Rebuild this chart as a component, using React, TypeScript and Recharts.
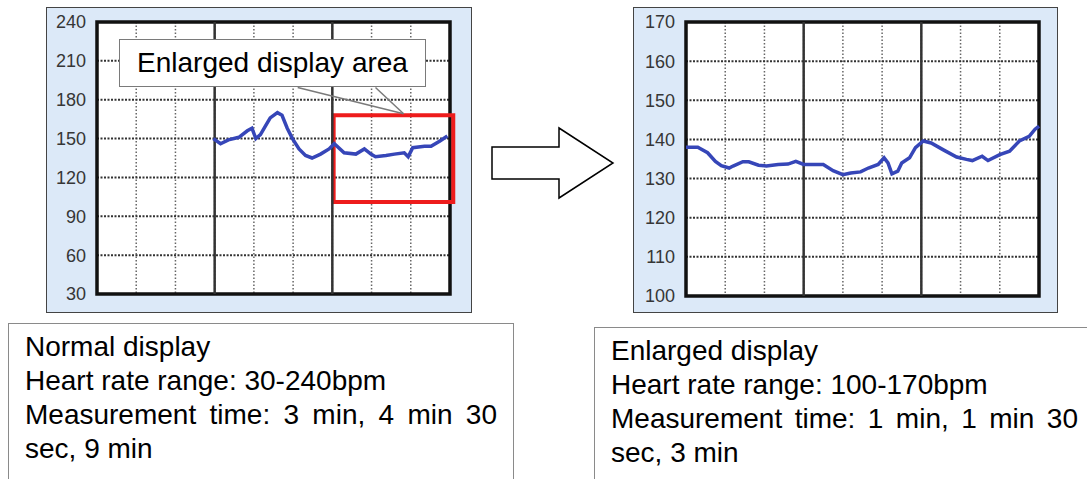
import React from "react"
import { LineChart, Line, XAxis, YAxis, CartesianGrid, ReferenceLine, ReferenceArea } from "recharts"

// normal display: seconds since start, bpm
const normalTime = [178, 189, 201, 217, 230, 237, 243, 250, 258, 265, 276, 283, 291, 299, 309, 319, 329, 342, 355, 363, 378, 396, 409, 419, 426, 442, 455, 470, 476, 483, 501, 511, 524, 536]
const normalBpm = [150, 146, 149, 151, 156, 158, 150, 153, 160, 166, 170, 168, 158, 150, 142, 137, 135, 138, 142, 146, 139, 138, 142, 138, 136, 137, 138, 139, 136, 143, 144, 144, 148, 152]
const normalXTicks = [0, 60, 120, 180, 240, 300, 360, 420, 480, 540]
const normalYTicks = [30, 60, 90, 120, 150, 180, 210, 240]
const normalMajor = [180, 360]

// enlarged display
const enlargedTime = [0, 6, 11, 15, 18, 22, 24, 29, 32, 37, 41, 47, 52, 56, 60, 65, 70, 75, 80, 84, 89, 93, 98, 101, 103, 105, 108, 110, 114, 117, 121, 125, 131, 138, 143, 146, 151, 154, 160, 165, 170, 175, 178, 180]
const enlargedBpm = [138, 138, 136.6, 134.4, 133.3, 132.7, 133.2, 134.3, 134.3, 133.4, 133.2, 133.6, 133.7, 134.4, 133.6, 133.6, 133.6, 132, 131, 131.4, 131.7, 132.7, 133.6, 135.3, 134, 131.2, 131.9, 134, 135.3, 137.9, 139.6, 139.1, 137.4, 135.5, 134.9, 134.6, 135.7, 134.6, 136.1, 137, 139.6, 140.8, 142.6, 143.4]
const enlargedXTicks = [0, 20, 40, 60, 80, 100, 120, 140, 160, 180]
const enlargedYTicks = [100, 110, 120, 130, 140, 150, 160, 170]
const enlargedMajor = [60, 120]

const normalText = ["Normal display", "Heart rate range: 30-240bpm", "Measurement time: 3 min, 4 min 30 sec, 9 min"]
const enlargedText = ["Enlarged display", "Heart rate range: 100-170bpm", "Measurement time: 1 min, 1 min 30 sec, 3 min"]

const font = "'Liberation Sans', Arial, sans-serif"
const lineColor = "#3646b8"

type PanelProps = {
  left: number
  top: number
  width: number
  height: number
  margin: { top: number; right: number; bottom: number; left: number }
  yWidth: number
  times: number[]
  bpm: number[]
  xTicks: number[]
  yTicks: number[]
  major: number[]
  children?: React.ReactNode
}

function Panel({ left, top, width, height, margin, yWidth, times, bpm, xTicks, yTicks, major, children }: PanelProps) {
  const data = times.map((t, i) => ({ t, v: bpm[i] }))
  const x0 = xTicks[0]
  const x1 = xTicks[xTicks.length - 1]
  const y0 = yTicks[0]
  const y1 = yTicks[yTicks.length - 1]
  return (
    <div
      style={{
        position: "absolute",
        left,
        top,
        width,
        height,
        background: "#dce9f8",
        border: "1px solid #444",
        boxSizing: "border-box",
      }}
    >
      <LineChart width={width - 2} height={height - 2} data={data} margin={margin}>
        <XAxis type="number" dataKey="t" domain={[x0, x1]} ticks={xTicks} hide />
        <YAxis
          type="number"
          domain={[y0, y1]}
          ticks={yTicks}
          width={yWidth}
          tickLine={false}
          axisLine={false}
          tickSize={8}
          tickMargin={3}
          interval={0}
          tick={{ fill: "#363636", fontSize: 18, fontFamily: font }}
        />
        <CartesianGrid horizontal={false} fill="#ffffff" fillOpacity={1} stroke="#666" strokeWidth={1.5} strokeDasharray="1.5 2" />
        <CartesianGrid vertical={false} stroke="#333" strokeWidth={2} strokeDasharray="2 1.5" />
        {major.map((m) => (
          <ReferenceLine key={m} x={m} stroke="#333" strokeWidth={2.5} />
        ))}
        <ReferenceArea x1={x0} x2={x1} y1={y0} y2={y1} fill="none" stroke="#111" strokeWidth={3.5} />
        <Line
          type="linear"
          dataKey="v"
          stroke={lineColor}
          strokeWidth={3.5}
          dot={false}
          isAnimationActive={false}
        />
        {children}
      </LineChart>
    </div>
  )
}

function TextBox({ left, top, width, padRight, lines }: { left: number; top: number; width: number; padRight: number; lines: string[] }) {
  return (
    <div
      style={{
        position: "absolute",
        left,
        top,
        width,
        height: 200,
        border: "1.5px solid #8a8a8a",
        background: "#fff",
        boxSizing: "border-box",
        padding: `6px ${padRight}px 0 16px`,
        fontFamily: font,
        fontSize: 28,
        lineHeight: "34px",
        color: "#000",
      }}
    >
      {lines.map((l, i) => (
        <div key={i} style={{ textAlign: "justify" }}>
          {l}
        </div>
      ))}
    </div>
  )
}

export default function App() {
  return (
    <div
      style={{
        position: "absolute",
        left: 0,
        top: 0,
        width: 1087,
        height: 479,
        overflow: "hidden",
        background: "#fff",
        fontFamily: font,
      }}
    >
      <Panel
        left={46}
        top={7}
        width={426}
        height={306}
        margin={{ top: 14, right: 21, bottom: 18, left: 0 }}
        yWidth={50}
        times={normalTime}
        bpm={normalBpm}
        xTicks={normalXTicks}
        yTicks={normalYTicks}
        major={normalMajor}
      >
        <ReferenceLine
          segment={[{ x: 307, y: 189.4 }, { x: 469, y: 169.2 }]}
          stroke="#7a7a7a"
          strokeWidth={1.5}
          ifOverflow="visible"
        />
        <ReferenceLine
          segment={[{ x: 426, y: 189.4 }, { x: 469, y: 169.2 }]}
          stroke="#7a7a7a"
          strokeWidth={1.5}
          ifOverflow="visible"
        />
        <ReferenceArea
          x1={362}
          x2={545}
          y1={101}
          y2={168}
          fill="none"
          stroke="#ee1c1c"
          strokeWidth={4}
          ifOverflow="visible"
        />
      </Panel>

      <div
        style={{
          position: "absolute",
          left: 119,
          top: 39,
          width: 307,
          height: 48,
          border: "1.5px solid #7a7a7a",
          background: "#fff",
          boxSizing: "border-box",
          fontSize: 28,
          lineHeight: "45px",
          textAlign: "center",
          color: "#000",
        }}
      >
        Enlarged display area
      </div>

      <svg style={{ position: "absolute", left: 480, top: 115 }} width={145} height={95}>
        <polygon
          points="12,32 79,32 79,13 133,48 79,83 79,64 12,64"
          fill="#fff"
          stroke="#000"
          strokeWidth={1.5}
        />
      </svg>

      <Panel
        left={633}
        top={7}
        width={425}
        height={306}
        margin={{ top: 14, right: 18, bottom: 16, left: 0 }}
        yWidth={52}
        times={enlargedTime}
        bpm={enlargedBpm}
        xTicks={enlargedXTicks}
        yTicks={enlargedYTicks}
        major={enlargedMajor}
      />

      <TextBox left={8} top={323} width={506} padRight={16} lines={normalText} />
      <TextBox left={594} top={327} width={510} padRight={25} lines={enlargedText} />
    </div>
  )
}
